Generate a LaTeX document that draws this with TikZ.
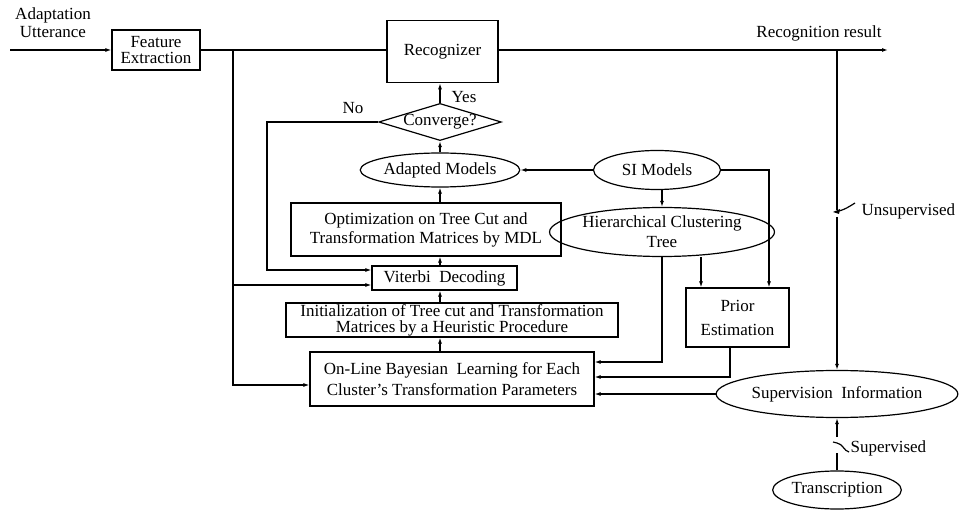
\documentclass[tikz,border=0pt]{standalone}
\usepackage{fontspec}
\setmainfont{Liberation Serif}
\usetikzlibrary{shapes.geometric,arrows.meta,calc}
\begin{document}
\begin{tikzpicture}[x=1pt,y=-1pt,
  line width=1.2pt,
  every node/.style={font=\fontsize{17}{19}\selectfont, inner sep=0pt, align=center},
  box/.style={draw, rectangle},
  oval/.style={draw, ellipse},
  lbl/.style={},
  arr/.style={-{Latex[length=6pt,width=4pt]}}
]
\useasboundingbox (0,0) rectangle (960,510);

% nodes
\node[lbl] (adapt) at (53,23) {Adaptation\\[-1pt]Utterance};
\node[box, minimum width=88pt, minimum height=40pt] (fe) at (156,50) {Feature\\[-3pt]Extraction};
\node[box, minimum width=111pt, minimum height=62pt] (rec) at (442.5,51.7) {Recognizer};
\node[lbl] (rr) at (819,33) {Recognition result};
\node[draw, diamond, shape aspect=3.3, minimum width=122pt, minimum height=37pt] (cv) at (440,122) {Converge?};
\node[lbl] (yes) at (464,97) {Yes};
\node[lbl] (no) at (353,108) {No};
\node[oval, minimum width=146pt, minimum height=34pt] (am) at (440,170) {Adapted Models};
\node[oval, minimum width=127pt, minimum height=39pt] (si) at (657,170) {SI Models};
\node[box, minimum width=270pt, minimum height=53pt] (op) at (426,229.5) {Optimization on Tree Cut and\\Transformation Matrices by MDL};
\node[oval, minimum width=194pt, minimum height=49pt] (hct) at (662,232) {Hierarchical Clustering\\[1pt]Tree};
\node[box, minimum width=145pt, minimum height=24pt] (vt) at (444.5,278) {Viterbi\enspace Decoding};
\node[box, minimum width=332pt, minimum height=34pt] (ini) at (452,320) {Initialization of Tree cut and Transformation\\[-3pt]Matrices by a Heuristic Procedure};
\node[box, minimum width=103pt, minimum height=59pt] (pe) at (737.5,317.5) {Prior\\[5pt]Estimation};
\node[box, minimum width=284pt, minimum height=54pt] (bay) at (452,379) {On-Line Bayesian\enspace Learning for Each\\[2pt]Cluster's Transformation Parameters};
\node[oval, minimum width=195pt, minimum height=47pt] (sup) at (837,394) {Supervision\enspace Information};
\node[oval, minimum width=96pt, minimum height=38pt] (tr) at (837,490) {Transcription};
\node[lbl, anchor=west] (unsup) at (861,211) {Unsupervised};
\node[lbl, anchor=west] (supd) at (850,448) {Supervised};

% coordinates
\coordinate (in0) at (10,50);
\coordinate (out) at (888,50);
\coordinate (j1) at (233,50);
\coordinate (j2) at (233,285);
\coordinate (nocorner) at (267,122);
\coordinate (tap) at (837,50);
\coordinate (s1a) at (837,210);
\coordinate (s1b) at (837,217);
\coordinate (s1c) at (855,203);
\coordinate (s2a) at (837,437);
\coordinate (s2b) at (837,453);
\coordinate (s2c) at (837,443);
\coordinate (s2d) at (849,452);

% main line
\draw[arr] (in0) -- (fe.west);
\draw (fe.east) -- (fe.east -| rec.west);
\draw[arr] (rec.east |- fe.east) -- (out);

% left feeders
\draw[arr] (j1) |- ([yshift=-6pt]bay.west);
\draw[arr] (j2) -- (j2 -| vt.west);
\draw[arr] (cv.west) -- (nocorner) |- ([yshift=8pt]vt.west);

% central chain
\draw[arr] (cv.north) -- (cv.north |- rec.south);
\draw[arr] (am.north) -- (am.north |- cv.south);
\draw[arr] (am.south |- op.north) -- (am.south);
\draw[arr] (am.south |- vt.north) -- (am.south |- op.south);
\draw[arr] (am.south |- ini.north) -- (am.south |- vt.south);
\draw[arr] (am.south |- bay.north) -- (am.south |- ini.south);

% SI models
\draw[arr] (si.west) -- (am.east);
\draw[arr] (hct.north |- si.south) -- (hct.north);
\draw[arr] (si.east) -| ([xshift=31.5pt]pe.north);
\draw[arr] ([xshift=-36.5pt]pe.north |- hct.south) -- ([xshift=-36.5pt]pe.north);
\draw[arr] (hct.south) |- ([yshift=17pt]bay.east);
\draw[arr] ([xshift=-7.5pt]pe.south) |- ([yshift=2pt]bay.east);
\draw[arr] (sup.west) -- (sup.west -| bay.east);

% unsupervised switch
\draw (tap) -- (s1a);
\draw[arr] (s1b) -- (sup.north);
\draw ([xshift=-2pt,yshift=-2pt]s1a) .. controls (845,210) and (850,206) .. (s1c);
\fill (833,212) -- (840,209) -- (839,214) -- cycle;

% supervised switch
\draw[arr] (s2a) -- (sup.south);
\draw (tr.north) -- (s2b);
\draw (833,442) -- (s2c) .. controls (843,444) and (844,451) .. (s2d);
\end{tikzpicture}
\end{document}
